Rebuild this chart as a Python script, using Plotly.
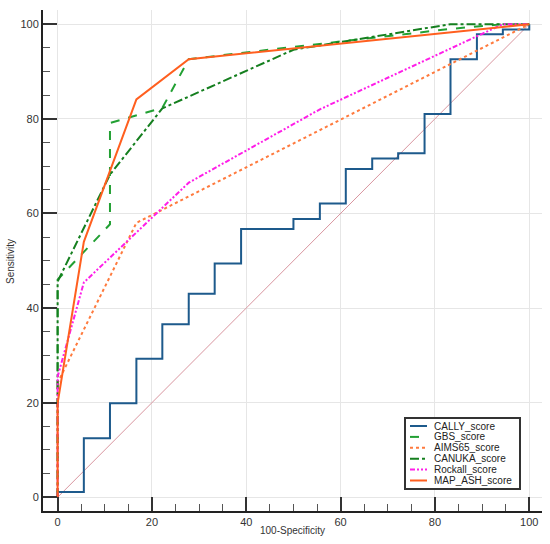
import plotly.graph_objects as go

# ROC curves (100-specificity vs sensitivity)
cally_x = [0, 0, 5.56, 11.1, 16.7, 22.2, 27.8, 33.3, 38.9, 50, 55.6, 61.1, 66.7, 72.2, 77.8, 83.3, 88.9, 94.4, 100]
cally_y = [0, 1.1, 12.5, 19.9, 29.3, 36.6, 43.0, 49.4, 56.7, 58.8, 62.1, 69.4, 71.6, 72.7, 81.0, 92.6, 97.9, 98.9, 100]

gbs_x = [0, 0, 11.1, 11.1, 22.2, 27.8, 50, 83.3, 94.4, 100]
gbs_y = [0, 46.0, 57.7, 79.1, 82.3, 92.6, 95.2, 99.0, 100, 100]

aims_x = [0, 0, 16.7, 100]
aims_y = [0, 24.2, 58.0, 100]

canuka_x = [0, 0, 11.1, 22.2, 50, 83.3, 100]
canuka_y = [0, 45.6, 68.2, 82.2, 94.6, 100, 100]

rockall_x = [0, 0, 5.56, 27.8, 55.6, 94.4, 100]
rockall_y = [0, 25.5, 45.4, 66.5, 82.0, 100, 100]

mapash_x = [0, 0, 5.56, 16.7, 27.8, 100]
mapash_y = [0, 19.9, 54.0, 84.1, 92.6, 100]

ref_x = [0, 100]
ref_y = [0, 100]

W, H = 550, 544
L, R, T, B = 43, 8, 10, 33

fig = go.Figure()

fig.add_trace(go.Scatter(x=ref_x, y=ref_y, mode="lines", showlegend=False,
                         line=dict(color="#d8959f", width=1), hoverinfo="skip"))

series = [
    ("CALLY_score", cally_x, cally_y, "#1d5a8c", "solid", "hv"),
    ("GBS_score", gbs_x, gbs_y, "#22a033", "dash", "linear"),
    ("AIMS65_score", aims_x, aims_y, "#ff7a3d", "dot", "linear"),
    ("CANUKA_score", canuka_x, canuka_y, "#157f1f", "dashdot", "linear"),
    ("Rockall_score", rockall_x, rockall_y, "#ff1ee8", "5px,2px,2px,2px,2px,2px", "linear"),
    ("MAP_ASH_score", mapash_x, mapash_y, "#ff5f1f", "solid", "linear"),
]
for name, xs, ys, color, dash, shape in series:
    fig.add_trace(go.Scatter(x=xs, y=ys, mode="lines", name=name, showlegend=False,
                             line=dict(color=color, width=2, dash=dash, shape=shape)))


# pixel -> paper helpers, used for the compact legend and axis titles
def px_x(p):
    return (p - L) / (W - L - R)


def px_y(p):
    return (H - B - p) / (H - T - B)


shapes = [dict(type="rect", xref="paper", yref="paper",
               x0=px_x(405), x1=px_x(520), y0=px_y(489), y1=px_y(418),
               line=dict(color="#333333", width=2), fillcolor="white")]
annotations = []
for i, (name, _, _, color, dash, _) in enumerate(series):
    row = 426 + i * 10.9
    shapes.append(dict(type="line", xref="paper", yref="paper",
                       x0=px_x(410), x1=px_x(427), y0=px_y(row), y1=px_y(row),
                       line=dict(color=color, width=2, dash=dash)))
    annotations.append(dict(xref="paper", yref="paper", x=px_x(432), y=px_y(row),
                            xanchor="left", yanchor="middle", showarrow=False,
                            text=name, font=dict(size=10, color="#222222")))

annotations.append(dict(xref="paper", yref="paper", x=px_x(292), y=px_y(530),
                        xanchor="center", yanchor="middle", showarrow=False,
                        text="100-Specificity", font=dict(size=10, color="#333333")))
annotations.append(dict(xref="paper", yref="paper", x=px_x(10), y=px_y(262),
                        xanchor="center", yanchor="middle", showarrow=False, textangle=-90,
                        text="Sensitivity", font=dict(size=10, color="#333333")))

axis_common = dict(
    showline=True, linecolor="#222222", linewidth=2,
    showgrid=True, gridcolor="#e6e6e6", gridwidth=1,
    zeroline=False, automargin=False,
    ticks="inside", ticklen=14, tickwidth=2, tickcolor="#333333",
    dtick=20, tick0=0,
    minor=dict(ticks="inside", ticklen=7, tickwidth=1, tickcolor="#555555", dtick=5, showgrid=False),
    tickfont=dict(size=11, color="#333333"),
)

fig.update_layout(
    width=W, height=H,
    margin=dict(l=L, r=R, t=T, b=B),
    paper_bgcolor="white", plot_bgcolor="white",
    font=dict(family="Liberation Sans, Arial, sans-serif", color="#333333"),
    xaxis=dict(range=[-3.1, 102.7], **axis_common),
    yaxis=dict(range=[-2.9, 103.0], **axis_common),
    showlegend=False,
    shapes=shapes,
    annotations=annotations,
)

# drop the page's default body margin so the figure sits at the window's corner
fig.write_html("out.html", config={"displayModeBar": False},
               post_script="document.body.style.margin='0';")
